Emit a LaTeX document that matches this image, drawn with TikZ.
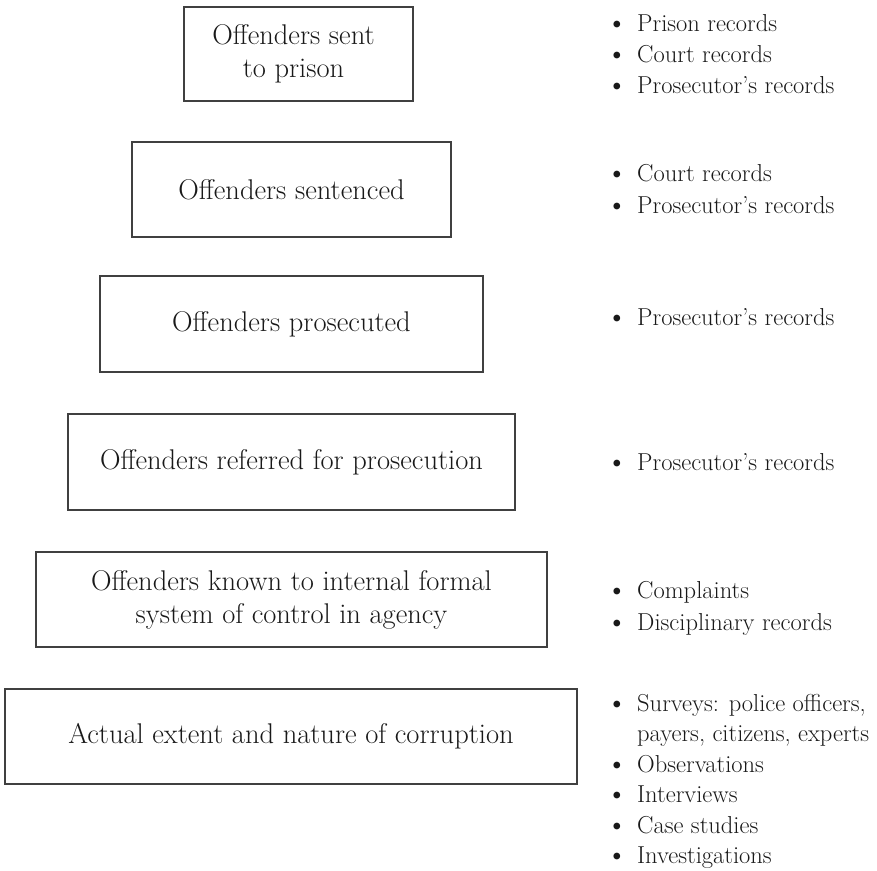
\documentclass[tikz,border=0pt]{standalone}
\begin{document}
\begin{tikzpicture}[x=1pt,y=-1pt,
  box/.style={draw=black!75, line width=1.2pt, inner sep=0pt},
  btext/.style={font=\fontsize{28.5}{33}\selectfont, align=center, text=black!90, inner sep=0pt},
  bul/.style={font=\fontsize{30}{30}\selectfont, anchor=base, inner sep=0pt, text=black!90, yshift=-1pt},
  itm/.style={font=\fontsize{24.5}{29}\selectfont, anchor=base west, inner sep=0pt, text=black!90}]
\useasboundingbox (0,0) rectangle (877,870);
% boxes
\node[box, minimum width=229pt, minimum height=94pt] (b1) at (298.5,54) {};
\node[btext] (t1) at (293.5,54) {Offenders sent\\to prison};
\node[box, minimum width=319pt, minimum height=95pt] (b2) at (291.5,189.5) {};
\node[btext] (t2) at (b2.center) {Offenders sentenced};
\node[box, minimum width=383pt, minimum height=96pt] (b3) at (291.5,324) {};
\node[btext] (t3) at (b3.center) {Offenders prosecuted};
\node[box, minimum width=447pt, minimum height=96pt] (b4) at (291.5,462) {};
\node[btext] (t4) at (b4.center) {Offenders referred for prosecution};
\node[box, minimum width=511pt, minimum height=95pt] (b5) at (291.5,599.5) {};
\node[btext] (t5) at (b5.center) {Offenders known to internal formal\\system of control in agency};
\node[box, minimum width=572pt, minimum height=95pt] (b6) at (291,736.5) {};
\node[btext] (t6) at (b6.center) {Actual extent and nature of corruption};
% list 1
\node[bul] (d1a) at (617,31) {\textbullet}; \node[itm] (l1a) at (637,31) {Prison records};
\node[bul] (d1b) at (617,62) {\textbullet}; \node[itm] (l1b) at (637,62) {Court records};
\node[bul] (d1c) at (617,93) {\textbullet}; \node[itm] (l1c) at (637,93) {Prosecutor’s records};
% list 2
\node[bul] (d2a) at (617,181) {\textbullet}; \node[itm] (l2a) at (637,181) {Court records};
\node[bul] (d2b) at (617,213) {\textbullet}; \node[itm] (l2b) at (637,213) {Prosecutor’s records};
% list 3
\node[bul] (d3a) at (617,325) {\textbullet}; \node[itm] (l3a) at (637,325) {Prosecutor’s records};
% list 4
\node[bul] (d4a) at (617,470) {\textbullet}; \node[itm] (l4a) at (637,470) {Prosecutor’s records};
% list 5
\node[bul] (d5a) at (617,598) {\textbullet}; \node[itm] (l5a) at (637,598) {Complaints};
\node[bul] (d5b) at (617,630) {\textbullet}; \node[itm] (l5b) at (637,630) {Disciplinary records};
% list 6
\node[bul] (d6a) at (617,711) {\textbullet}; \node[itm] (l6a) at (637,711) {Surveys: police officers,};
\node[itm] (l6b) at (637,741.5) {payers, citizens, experts};
\node[bul] (d6c) at (617,772) {\textbullet}; \node[itm] (l6c) at (637,772) {Observations};
\node[bul] (d6d) at (617,802.5) {\textbullet}; \node[itm] (l6d) at (637,802.5) {Interviews};
\node[bul] (d6e) at (617,833) {\textbullet}; \node[itm] (l6e) at (637,833) {Case studies};
\node[bul] (d6f) at (617,863.5) {\textbullet}; \node[itm] (l6f) at (637,863.5) {Investigations};
\end{tikzpicture}
\end{document}
